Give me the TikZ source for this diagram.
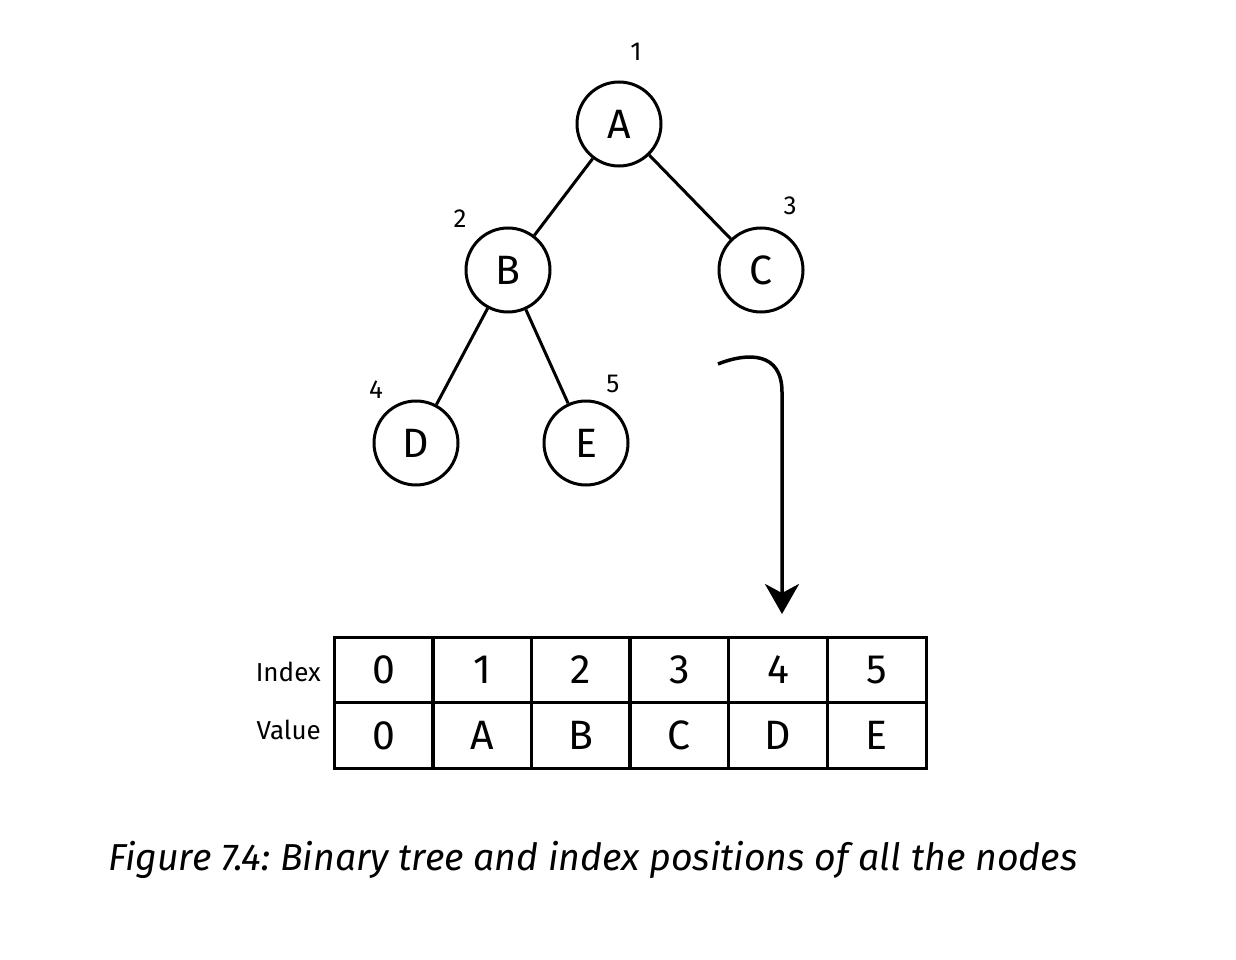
\documentclass[tikz,border=0pt]{standalone}
\usepackage{fontspec}
\setmainfont{Fira Sans}
\usetikzlibrary{arrows.meta}
\frenchspacing
\begin{document}
\begin{tikzpicture}[x=1pt,y=-1pt,
  treenode/.style={circle,draw,line width=3pt,minimum size=84pt,inner sep=0pt,font=\fontsize{41}{48}\selectfont},
  idx/.style={font=\fontsize{26}{30}\selectfont,inner sep=0pt},
  cell/.style={rectangle,draw,line width=3pt,minimum width=99pt,minimum height=65.5pt,inner sep=0pt,font=\fontsize{41}{48}\selectfont},
  rowlabel/.style={anchor=east,inner sep=0pt,font=\fontsize{26}{30}\selectfont},
  edge/.style={line width=3pt}]
\useasboundingbox (0,0) rectangle (1236,960);
% tree nodes
\node[treenode] (A) at (619,124) {A};
\node[treenode] (B) at (508,270) {B};
\node[treenode] (C) at (761,270) {C};
\node[treenode] (D) at (416,443) {D};
\node[treenode] (E) at (586,443) {E};
\draw[edge] (A) -- (B);
\draw[edge] (A) -- (C);
\draw[edge] (B) -- (D);
\draw[edge] (B) -- (E);
% index labels
\node[idx] (l1) at (636,52) {1};
\node[idx] (l2) at (460,219) {2};
\node[idx] (l3) at (790,206) {3};
\node[idx] (l4) at (376,390) {4};
\node[idx] (l5) at (613,384) {5};
% arrow
\coordinate (arrS) at (718,364);
\coordinate (arrE) at (782,614);
\draw[line width=3.5pt,-{Stealth[length=30pt,width=34pt,inset=9pt]}]
  (arrS) .. controls (748,352) and (782,352) .. (782,392) -- (arrE);
% table
\foreach \v [count=\i from 0] in {0,1,2,3,4,5} {
  \node[cell] (i\i) at (383.5+98.6*\i,670) {\v};
}
\foreach \v [count=\i from 0] in {0,A,B,C,D,E} {
  \node[cell] (v\i) at (383.5+98.6*\i,735.5) {\v};
}
\node[rowlabel] (indexlab) at (321,672) {Index};
\node[rowlabel] (valuelab) at (321,730) {Value};
% caption
\node[anchor=west,inner sep=0pt,font=\fontsize{37.5}{46}\selectfont\itshape] (cap) at (108,860) {Figure 7.4: Binary tree and index positions of all the nodes};
\end{tikzpicture}
\end{document}
